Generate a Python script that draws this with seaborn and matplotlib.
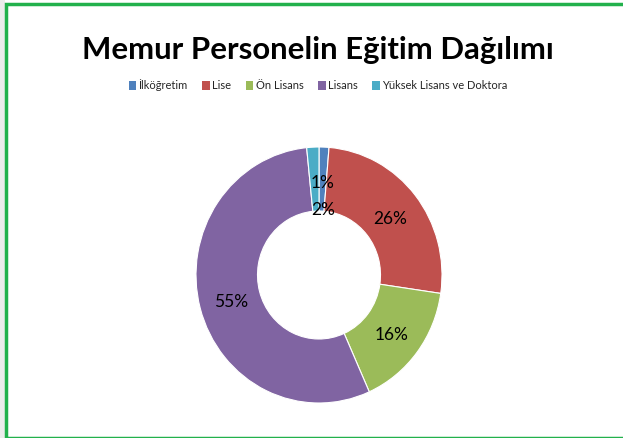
import numpy as np
import matplotlib
matplotlib.use('Agg')
import matplotlib.pyplot as plt
from matplotlib.patches import Patch, Rectangle
import seaborn as sns

# Chart data (percent shares)
categories = ['İlköğretim', 'Lise', 'Ön Lisans', 'Lisans', 'Yüksek Lisans ve Doktora']
shares = [1.3, 26.0, 16.0, 55.1, 1.6]
label_radius = [0.74, 0.74, 0.74, 0.74, 0.53]
label_dx = [0.0, 0.0, 0.0, 0.0, 0.06]
colors = ['#4F81BD', '#C0504D', '#9BBB59', '#8064A2', '#4BACC6']

sns.set_theme(style='white')
plt.rcParams['font.family'] = ['Lato', 'DejaVu Sans']

W, H = 623, 438
fig = plt.figure(figsize=(W / 100, H / 100), dpi=100, facecolor='white')

# Light gray strip on the left and green frame
fig.patches.append(Rectangle((0, 0), 5 / W, 1, transform=fig.transFigure,
                             facecolor='#ECECEC', edgecolor='none', zorder=-1))
fig.patches.append(Rectangle((6 / W, 0.5 / H), 1.0, 1 - 4.5 / H, transform=fig.transFigure,
                             facecolor='none', edgecolor='#22B14C', linewidth=2.5, zorder=5))

# Donut axes
cx, cy, rx, ry = 319, 275, 123, 128
ax = fig.add_axes([(cx - rx) / W, (H - cy - ry) / H, 2 * rx / W, 2 * ry / H])
wedges, _ = ax.pie(shares, colors=colors, startangle=90, counterclock=False,
                   wedgeprops=dict(width=0.5, edgecolor='white', linewidth=0.8))
ax.set_aspect('auto')
ax.set_xlim(-1, 1)
ax.set_ylim(-1, 1)
ax.axis('off')

for w, s, r, dx in zip(wedges, shares, label_radius, label_dx):
    ang = np.deg2rad((w.theta1 + w.theta2) / 2)
    ax.text(r * np.cos(ang) + dx, r * np.sin(ang) - 0.022, f'{s:.0f}%', ha='center',
            va='center', fontsize=12.5, color='black')

fig.text(318 / W, 1 - 50 / H, 'Memur Personelin Eğitim Dağılımı', ha='center', va='center',
         fontsize=22.4, fontweight='bold', color='black')

handles = [Patch(facecolor=c, edgecolor='none') for c in colors]
fig.legend(handles, categories, loc='center', bbox_to_anchor=(318 / W, 1 - 85 / H), ncol=5,
           frameon=False, fontsize=8, handlelength=0.7, handleheight=0.9,
           handletextpad=0.2, columnspacing=1.3)

fig.savefig('out.png', dpi=100)
